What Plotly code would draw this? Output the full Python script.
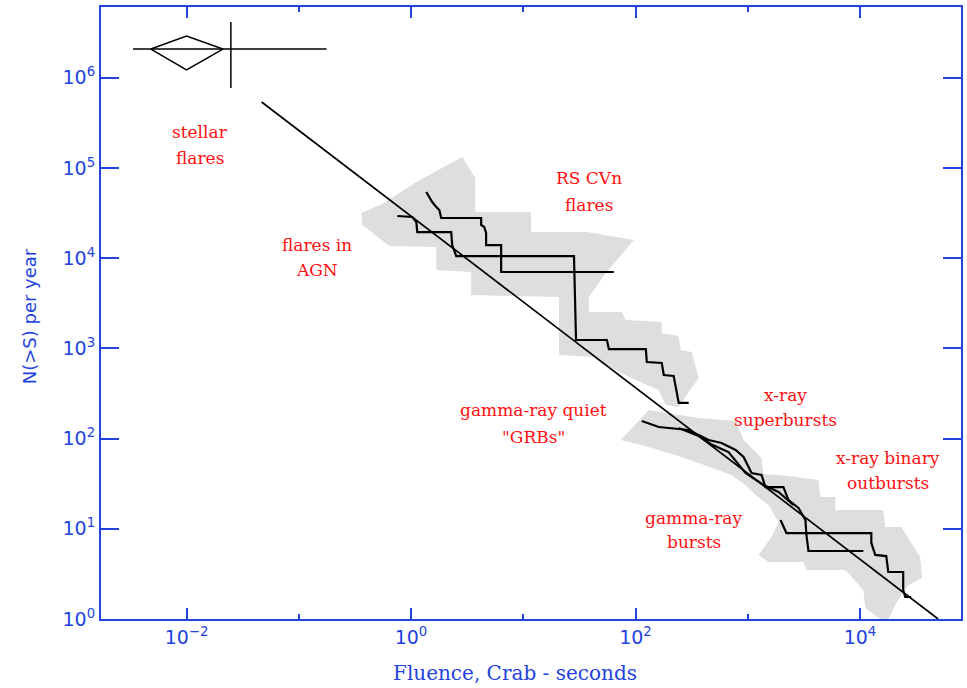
import numpy as np
import plotly.graph_objects as go

# ---------------- data (log10 values) ----------------
# power-law reference line
powerlaw_logS = [-1.331, 4.696]
powerlaw_logN = [5.732, 0.0]

# shaded region 1: flares in AGN + RS CVn flares
region1_logS = [0.456, 0.572, 0.572, 1.069, 1.069, 1.567, 1.985, 1.736, 1.585, 1.585,
                1.878, 1.914, 2.234, 2.234, 2.385, 2.403, 2.500, 2.563, 2.474, 2.385,
                2.269, 2.207, 1.940, 1.612, 1.318, 1.318, 0.536, 0.536, 0.225, 0.225,
                -0.193, -0.433, -0.442, -0.255, 0.047, 0.456]
region1_logN = [5.122, 4.889, 4.512, 4.512, 4.290, 4.290, 4.202, 3.836, 3.570, 3.404,
                3.404, 3.315, 3.293, 3.171, 3.137, 2.982, 2.960, 2.672, 2.517, 2.350,
                2.373, 2.539, 2.683, 2.905, 2.927, 3.570, 3.592, 3.847, 3.869, 4.124,
                4.135, 4.368, 4.501, 4.601, 4.845, 5.122]

# shaded region 2: gamma-ray bursts + x-ray superbursts + x-ray binary outbursts
region2_logS = [1.869, 2.118, 2.563, 2.892, 2.963, 3.123, 3.141, 3.363, 3.630, 3.647,
                3.781, 3.781, 4.207, 4.225, 4.367, 4.536, 4.554, 4.430, 4.323, 4.234,
                4.047, 4.030, 3.870, 3.523, 3.496, 3.185, 3.096, 3.212, 3.274, 3.185,
                3.070, 2.980, 2.856, 2.652, 2.412, 2.056, 1.869]
region2_logN = [1.984, 2.317, 2.228, 2.195, 1.984, 1.785, 1.608, 1.585, 1.541, 1.353,
                1.353, 1.208, 1.208, 1.020, 1.020, 0.687, 0.455, 0.377, 0.177, -0.05,
                0.122, 0.322, 0.543, 0.543, 0.632, 0.632, 0.710, 0.909, 1.075, 1.264,
                1.375, 1.486, 1.596, 1.685, 1.796, 1.929, 1.984]

# cumulative distributions (staircases)
rscvn_logS = [0.136, 0.163, 0.189, 0.225, 0.252, 0.269, 0.625, 0.625, 0.652, 0.669,
              0.669, 0.803, 0.803, 1.807]
rscvn_logN = [4.734, 4.678, 4.623, 4.568, 4.534, 4.446, 4.446, 4.368, 4.346, 4.279,
              4.146, 4.146, 3.847, 3.847]

agn_logS = [-0.122, 0.012, 0.047, 0.056, 0.358, 0.367, 0.403, 1.452, 1.470, 1.745,
            1.763, 2.092, 2.101, 2.234, 2.252, 2.340, 2.385, 2.474]
agn_logN = [4.468, 4.457, 4.401, 4.290, 4.290, 4.146, 4.024, 4.024, 3.093, 3.093,
            2.993, 2.993, 2.849, 2.838, 2.705, 2.694, 2.395, 2.395]

grb_logS = [2.056, 2.207, 2.474, 2.652, 2.767, 2.892, 2.963, 3.034, 3.123, 3.158,
            3.318, 3.363, 3.452, 3.514, 3.523, 3.541, 4.030]
grb_logN = [2.195, 2.129, 2.095, 1.984, 1.951, 1.874, 1.796, 1.619, 1.596, 1.463,
            1.463, 1.319, 1.231, 1.098, 0.931, 0.754, 0.754]

superburst_logS = [2.385, 2.563, 2.669, 2.829, 2.980, 3.141, 3.274, 3.407]
superburst_logN = [2.118, 2.029, 1.940, 1.851, 1.619, 1.486, 1.408, 1.264]

binary_logS = [3.292, 3.345, 4.101, 4.101, 4.136, 4.234, 4.252, 4.385, 4.385, 4.403, 4.456]
binary_logN = [1.098, 0.953, 0.953, 0.843, 0.710, 0.698, 0.521, 0.521, 0.322, 0.244, 0.244]

# stellar-flare point with error bars
stellar_logS = -2.0
stellar_logN = 6.319
stellar_diamond_dS = [-0.318, 0.0, 0.324, 0.0, -0.318]
stellar_diamond_dN = [0.0, 0.144, 0.0, -0.232, 0.0]
stellar_xbar_logS = [-2.477, -0.753]
stellar_ybar_logS = -1.605
stellar_ybar_logN = [5.887, 6.619]

# axis ticks
x_tickvals = [1e-2, 1e0, 1e2, 1e4]
x_ticktext = ["10<sup>\u22122</sup>", "10<sup>0</sup>", "10<sup>2</sup>", "10<sup>4</sup>"]
x_minor_tickvals = [1e-1, 1e1, 1e3]
y_tickvals = [1e0, 1e1, 1e2, 1e3, 1e4, 1e5, 1e6]
y_ticktext = ["10<sup>%d</sup>" % i for i in range(7)]

# region labels
label_text = ["stellar", "flares", "flares in", "AGN", "RS CVn", "flares",
              "gamma-ray quiet", "\"GRBs\"", "x-ray", "superbursts",
              "x-ray binary", "outbursts", "gamma-ray", "bursts"]
label_logS = [-1.882, -1.882, -0.842, -0.842, 1.585, 1.585, 1.088, 1.088,
              3.336, 3.336, 4.252, 4.252, 2.518, 2.518]
label_logN = [5.399, 5.111, 4.146, 3.869, 4.889, 4.590, 2.317, 2.018,
              2.483, 2.206, 1.785, 1.508, 1.120, 0.854]

# ---------------- figure ----------------
BLUE = "#2244dd"
GRAY = "#dedede"
p10 = lambda a: np.power(10.0, np.asarray(a, dtype=float))

fig = go.Figure()

for sx, sy in [(region1_logS, region1_logN), (region2_logS, region2_logN)]:
    fig.add_trace(go.Scatter(x=p10(sx), y=p10(sy), mode="lines", fill="toself",
                             fillcolor=GRAY, line=dict(width=0, color=GRAY),
                             hoverinfo="skip", showlegend=False))

fig.add_trace(go.Scatter(x=p10(powerlaw_logS), y=p10(powerlaw_logN), mode="lines",
                         line=dict(color="black", width=1.7), showlegend=False))

for sx, sy in [(rscvn_logS, rscvn_logN), (agn_logS, agn_logN), (grb_logS, grb_logN),
               (superburst_logS, superburst_logN), (binary_logS, binary_logN)]:
    fig.add_trace(go.Scatter(x=p10(sx), y=p10(sy), mode="lines",
                             line=dict(color="black", width=2.2), showlegend=False))

# stellar flare point
fig.add_trace(go.Scatter(x=p10([stellar_logS + d for d in stellar_diamond_dS]),
                         y=p10([stellar_logN + d for d in stellar_diamond_dN]),
                         mode="lines", line=dict(color="black", width=1.5), showlegend=False))
fig.add_trace(go.Scatter(x=p10(stellar_xbar_logS), y=p10([stellar_logN, stellar_logN]),
                         mode="lines", line=dict(color="black", width=1.5), showlegend=False))
fig.add_trace(go.Scatter(x=p10([stellar_ybar_logS, stellar_ybar_logS]), y=p10(stellar_ybar_logN),
                         mode="lines", line=dict(color="black", width=1.5), showlegend=False))

for t, lx, ly in zip(label_text, label_logS, label_logN):
    fig.add_annotation(x=lx, y=ly, xref="x", yref="y", text=t, showarrow=False,
                       font=dict(family="DejaVu Serif", size=17, color="#ff1010"),
                       xanchor="center", yanchor="middle")

# axis titles
fig.add_annotation(x=0.481, y=-0.088, xref="paper", yref="paper",
                   text="Fluence, Crab - seconds", showarrow=False,
                   font=dict(family="DejaVu Serif", size=20, color=BLUE),
                   xanchor="center", yanchor="middle")
fig.add_annotation(x=-0.0835, y=0.495, xref="paper", yref="paper",
                   text="N(>S) per year", showarrow=False, textangle=-90,
                   font=dict(family="DejaVu Sans", size=18, color=BLUE),
                   xanchor="center", yanchor="middle")

axis_common = dict(type="log", showline=True, linecolor=BLUE, linewidth=2, mirror="ticks",
                   ticks="inside", tickcolor=BLUE, tickwidth=2, showgrid=False, zeroline=False,
                   tickfont=dict(family="DejaVu Sans", size=19, color=BLUE))

fig.update_xaxes(range=[-2.762, 4.90], tickvals=x_tickvals, ticktext=x_ticktext, ticklen=11,
                 minor=dict(tickvals=x_minor_tickvals, ticklen=5, tickwidth=2, tickcolor=BLUE,
                            ticks="inside", showgrid=False),
                 **axis_common)
fig.update_yaxes(range=[0, 6.785], tickvals=y_tickvals, ticktext=y_ticktext, ticklen=18,
                 **axis_common)

fig.update_layout(width=967, height=688, margin=dict(l=101, r=4, t=7, b=69),
                  plot_bgcolor="white", paper_bgcolor="white", showlegend=False)

fig.write_html("out.html")
